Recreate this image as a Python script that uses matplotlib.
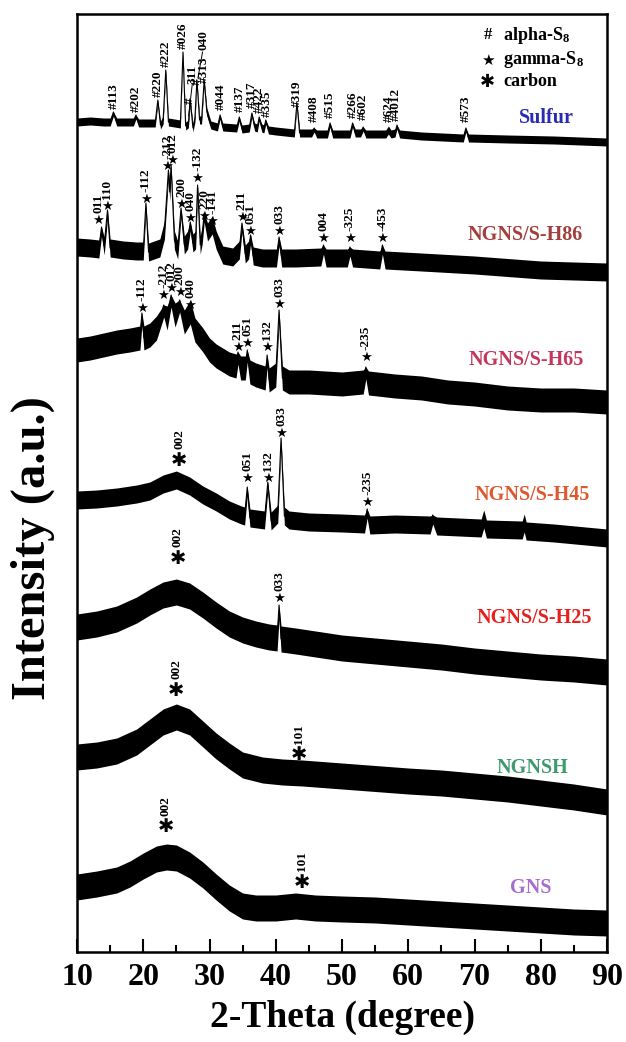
import numpy as np
import matplotlib.pyplot as plt

plt.rcParams['font.family'] = ['Liberation Serif', 'DejaVu Sans']
plt.rcParams['font.weight'] = 'bold'
plt.rcParams['mathtext.fontset'] = 'custom'
plt.rcParams['mathtext.rm'] = 'Liberation Serif:bold'
plt.rcParams['mathtext.bf'] = 'Liberation Serif:bold'
plt.rcParams['mathtext.default'] = 'bf'

# ---- patterns (2-theta in degree, intensity in a.u., already offset) ----
sulfur_x = [10, 12, 14, 15.0, 15.5, 16.0, 18.5, 18.9, 19.3, 21.8, 22.2, 22.6, 23.0, 23.4, 23.8,
            25.6, 26.0, 26.4, 26.8, 27.1, 27.5, 27.8, 28.1, 28.5, 28.8, 29.2, 29.6, 30.2,
            31.2, 31.6, 32.0, 34.1, 34.5, 34.9, 36.0, 36.4, 36.8, 37.2, 37.5, 37.9, 38.2,
            38.5, 38.9, 40, 42.8, 43.2, 43.6, 45.4, 45.8, 46.2, 47.8, 48.2, 48.6, 51.2,
            51.6, 52.0, 52.8, 53.2, 53.6, 56.6, 57.0, 57.4, 58.0, 58.3, 58.7, 62, 68.3,
            68.7, 69.1, 75, 82, 90]
sulfur_y = [830, 831, 830, 830, 840, 830, 830, 837, 829, 829, 852, 827, 832, 882, 830,
            828, 900, 826, 828, 852, 824, 834, 872, 832, 832, 872, 840, 827,
            825, 837, 825, 824, 835, 823, 824, 839, 825, 824, 835, 824, 823,
            832, 822, 821, 819, 849, 819, 819, 824, 818, 818, 829, 818, 818,
            829, 819, 819, 825, 818, 818, 822, 818, 819, 827, 818, 816, 814,
            824, 814, 813, 812, 810]

h86_x = [10, 12, 13.3, 13.7, 14.1, 14.6, 15.0, 17, 19, 20.0, 20.4, 20.8, 22.5, 23.2, 23.8,
         24.0, 24.2, 24.7, 25.2, 25.7, 26.2, 26.7, 27.1, 27.5, 27.9, 28.2, 28.6, 28.9,
         29.2, 29.7, 30.4, 31.0, 32.0, 33.5, 34.5, 34.9, 35.4, 35.9, 36.2, 36.6, 38,
         40.1, 40.5, 40.9, 43, 46.8, 47.2, 47.6, 50.8, 51.2, 51.6, 55.7, 56.1, 56.5,
         62, 70, 80, 90]
h86_y = [705, 704, 703, 725, 706, 742, 704, 702, 701, 701, 749, 700, 704, 722, 782,
         760, 787, 712, 702, 744, 707, 712, 730, 709, 712, 767, 707, 717,
         739, 720, 727, 712, 697, 695, 702, 729, 698, 702, 717, 696, 694,
         694, 715, 694, 694, 695, 707, 694, 694, 705, 694, 692, 707, 692,
         690, 687, 682, 680]

h65_x = [10, 12, 14, 16, 18, 19.5, 19.8, 20.1, 21, 22, 23.1, 23.6, 24.2, 24.8, 25.5, 26.2,
         27.1, 27.8, 29, 30, 31, 32, 33, 34.0, 34.3, 34.7, 35.4, 35.7, 36.1, 37, 38.4,
         38.7, 39.0, 40.0, 40.5, 41.0, 42, 45, 50, 53.2, 53.6, 54.0, 58, 62, 66, 70,
         75, 80, 85, 90]
h65_y = [602, 604, 607, 610, 612, 614, 639, 614, 617, 624, 647, 634, 657, 637, 652, 630,
         640, 622, 612, 602, 596, 592, 588, 586, 600, 584, 584, 602, 580, 577, 574,
         597, 572, 577, 642, 574, 570, 570, 568, 570, 585, 569, 566, 564, 560, 558,
         554, 552, 552, 550]

h45_x = [10, 13, 16, 19, 21, 23, 25, 27, 29, 31, 33, 34.8, 35.3, 35.7, 36.1, 38.3, 38.8,
         39.3, 40.3, 40.8, 41.3, 42, 45, 50, 53.4, 53.8, 54.2, 58, 63.3, 63.7, 64.3,
         71.0, 71.4, 71.8, 77.2, 77.5, 77.8, 82, 90]
h45_y = [452, 453, 455, 458, 461, 468, 472, 466, 457, 450, 442, 437, 436, 465, 434, 432, 470,
         431, 438, 514, 436, 432, 430, 429, 428, 443, 427, 428, 427, 437, 426,
         424, 433, 423, 422, 429, 421, 419, 414]

h25_x = [10, 13, 16, 19, 21, 23, 25, 27, 29, 31, 33, 35, 37, 39, 40.2, 40.5, 40.8, 43, 46,
         50, 55, 60, 65, 70, 75, 80, 85, 90]
h25_y = [325, 328, 333, 342, 350, 357, 360, 356, 347, 337, 328, 322, 318, 315, 314, 347, 313,
         311, 308, 304, 301, 298, 295, 291, 288, 285, 283, 280]

ngnsh_x = [10, 13, 16, 19, 21, 23, 25, 27, 29, 31, 33, 35, 38, 41, 44, 48, 52, 56, 60, 65,
           70, 75, 80, 85, 90]
ngnsh_y = [195, 197, 201, 210, 220, 230, 235, 230, 218, 206, 196, 187, 182, 180, 179, 177,
           175, 173, 171, 169, 166, 163, 159, 155, 150]

gns_x = [10, 13, 16, 18, 20, 22, 23.5, 25, 27, 29, 31, 33, 35, 37, 40, 43, 46, 50, 55, 60,
         65, 70, 75, 80, 85, 90]
gns_y = [65, 68, 72, 78, 86, 93, 95, 94, 87, 77, 65, 54, 46, 44, 44, 46, 44, 43, 42, 40,
         38, 36, 34, 32, 30, 29]

# ---- peak indexing ----
sulfur_hkl = ['113', '202', '220', '222', '026', '311', '040', '313', '044', '137', '317',
              '422', '335', '319', '408', '515', '266', '602', '624', '4012', '573']
sulfur_hkl_x = [15.5, 18.9, 22.2, 23.4, 26.0, 27.1, 28.1, 29.2, 31.7, 34.6, 36.4,
                37.5, 38.6, 43.2, 45.8, 48.2, 51.6, 53.2, 57.0, 58.2, 68.7]
sulfur_hkl_y = [843, 840, 855, 885, 903, 848, 867, 869, 842, 840, 844,
                839, 835, 845, 830, 834, 834, 832, 830, 831, 830]

h86_hkl = ['011', '110', '-112', '-212', '012', '200', '040', '-132', '220', '-141', '211',
           '051', '033', '004', '-325', '-453']
h86_hkl_x = [13.2, 14.6, 20.4, 23.6, 24.4, 25.7, 27.1, 28.2, 29.2, 30.4, 34.9,
             36.2, 40.5, 47.2, 51.2, 56.1]
h86_hkl_y = [732, 746, 753, 786, 792, 748, 734, 774, 736, 731, 735,
             721, 721, 714, 714, 714]

h65_hkl = ['-112', '-212', '012', '200', '040', '211', '051', '132', '033', '-235']
h65_hkl_x = [19.8, 23.0, 24.2, 25.5, 27.1, 34.3, 35.7, 38.7, 40.5, 53.6]
h65_hkl_y = [644, 657, 664, 660, 647, 605, 609, 605, 648, 595]

h45_hkl = ['051', '132', '033', '-235']
h45_hkl_x = [35.7, 38.8, 40.8, 53.8]
h45_hkl_y = [474, 474, 519, 450]

h25_hkl = ['033']
h25_hkl_x = [40.5]
h25_hkl_y = [354]

carbon_hkl = ['002', '002', '002', '101', '002', '101']
carbon_x = [25.4, 25.2, 25.0, 43.5, 23.4, 44.0]
carbon_y = [492, 394, 262, 197, 125, 70]

samples = ['Sulfur', 'NGNS/S-H86', 'NGNS/S-H65', 'NGNS/S-H45', 'NGNS/S-H25', 'NGNSH', 'GNS']
sample_colors = ['#2a2ab4', '#a23f3c', '#c4365c', '#dd5a2e', '#e5201e', '#3d9a6c', '#a76ccf']
sample_x = [80.8, 77.6, 77.8, 78.7, 79.0, 78.8, 78.5]
sample_y = [834, 717, 592, 457, 334, 184, 64]

fig = plt.figure(figsize=(6.26, 10.42), dpi=100)
ax = fig.add_axes([77 / 626, 90 / 1042, 530 / 626, 938 / 1042])
ax.set_xlim(10, 90)
ax.set_ylim(0, 938)


def draw_trace(x, y, w):
    x = np.asarray(x, float)
    y = np.asarray(y, float)
    top = y + w
    spike = np.zeros(len(y), bool)
    spike[1:-1] = y[1:-1] > np.maximum(y[:-2], y[2:]) + w
    top[spike] = y[spike]
    ax.fill_between(x, y - w, top, color='black', lw=0)
    ax.plot(x, y, color='black', lw=0.8)


draw_trace(sulfur_x, sulfur_y, 4)
draw_trace(h86_x, h86_y, 9)
draw_trace(h65_x, h65_y, 12)
draw_trace(h45_x, h45_y, 9)
draw_trace(h25_x, h25_y, 13)
draw_trace(ngnsh_x, ngnsh_y, 13)
draw_trace(gns_x, gns_y, 13)

LBL = 9.5

# alpha-S8 labels
for i in range(len(sulfur_hkl)):
    h, xx, yy = sulfur_hkl[i], sulfur_hkl_x[i], sulfur_hkl_y[i]
    if h == '040':
        ax.text(xx, yy, '#', rotation=90, ha='center', va='bottom', fontsize=LBL)
        ax.text(29.1, 902, h, rotation=90, ha='center', va='bottom', fontsize=LBL)
        ax.plot([28.25, 28.95], [874, 900], color='black', lw=0.7)
    elif h == '311':
        ax.text(xx, yy, '#', rotation=90, ha='center', va='bottom', fontsize=LBL)
        ax.text(27.5, 868, h, rotation=90, ha='center', va='bottom', fontsize=LBL)
        ax.plot([26.85, 27.4], [836, 868], color='black', lw=0.7)
    else:
        ax.text(xx, yy, '#' + h, rotation=90, ha='center', va='bottom', fontsize=LBL)

# gamma-S8 labels
for hkl, xs, ys in [(h86_hkl, h86_hkl_x, h86_hkl_y), (h65_hkl, h65_hkl_x, h65_hkl_y),
                    (h45_hkl, h45_hkl_x, h45_hkl_y), (h25_hkl, h25_hkl_x, h25_hkl_y)]:
    for h, xx, yy in zip(hkl, xs, ys):
        ax.text(xx, yy, '\u2605', family='DejaVu Sans', fontsize=9.5, ha='center', va='center')
        ax.annotate(h, (xx, yy), xytext=(0, 5), textcoords='offset points',
                    rotation=90, ha='center', va='bottom', fontsize=LBL)

# carbon labels
for h, xx, yy in zip(carbon_hkl, carbon_x, carbon_y):
    ax.text(xx, yy, '\u2731', family='DejaVu Sans', fontsize=14, ha='center', va='center')
    ax.annotate(h, (xx, yy), xytext=(0, 8), textcoords='offset points',
                rotation=90, ha='center', va='bottom', fontsize=LBL)

for name, c, xx, yy in zip(samples, sample_colors, sample_x, sample_y):
    ax.text(xx, yy, name, color=c, fontsize=14.5, ha='center', va='center')

# legend of symbols
ax.text(72.0, 917, '#', fontsize=12, ha='center', va='center')
ax.text(74.3, 917, 'alpha-S$_8$', fontsize=13, ha='left', va='center')
ax.text(72.0, 892, '\u2605', family='DejaVu Sans', fontsize=11, ha='center', va='center')
ax.text(74.3, 892, 'gamma-S$_8$', fontsize=13, ha='left', va='center')
ax.text(72.0, 870, '\u2731', family='DejaVu Sans', fontsize=13, ha='center', va='center')
ax.text(74.3, 870, 'carbon', fontsize=13, ha='left', va='center')

ax.set_xticks(range(10, 91, 10))
ax.set_xticks(range(15, 90, 10), minor=True)
ax.set_yticks([])
ax.tick_params(axis='x', which='major', direction='in', length=9.5, width=1.5,
               labelsize=23, pad=8)
ax.tick_params(axis='x', which='minor', direction='in', length=5, width=1.5)
for s in ax.spines.values():
    s.set_linewidth(1.8)

fig.text(342 / 626, 1 - 1017 / 1042, '2-Theta (degree)', fontsize=27, ha='center', va='center')
fig.text(33 / 626, 1 - 548 / 1042, 'Intensity (a.u.)', fontsize=35, rotation=90,
         ha='center', va='center')

fig.savefig('out.png', dpi=100)
